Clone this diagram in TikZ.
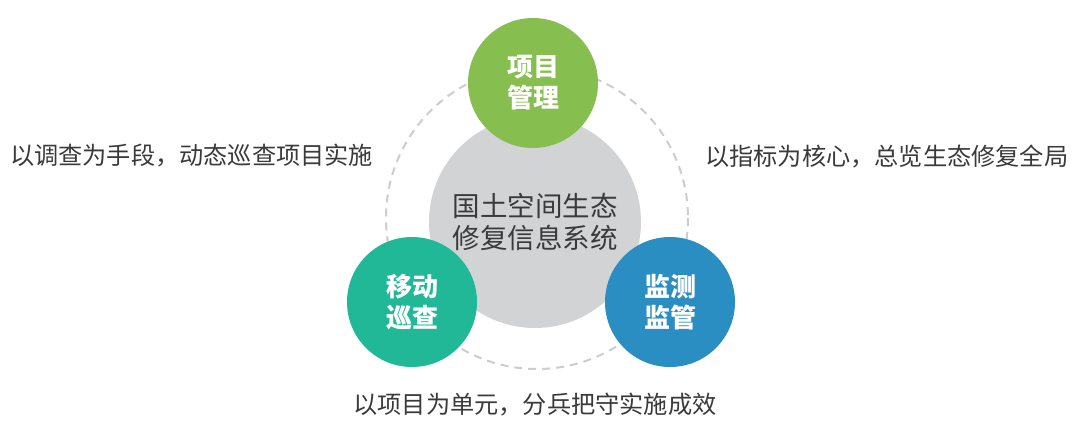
\documentclass[tikz,border=0pt]{standalone}
\usepackage{fontspec}
\newfontfamily\cjk{Noto Sans CJK SC}
\definecolor{cgreen}{HTML}{86BF50}
\definecolor{cteal}{HTML}{21B898}
\definecolor{cblue}{HTML}{2A8EC3}
\definecolor{cgray}{HTML}{D2D3D5}
\definecolor{cdash}{HTML}{CDCDCD}
\definecolor{ctext}{HTML}{3A3A3A}
\tikzset{
  sidetext/.style={font=\cjk\fontsize{24.2}{29}\selectfont, text=ctext, inner sep=0pt},
  bubble/.style={circle, minimum size=130pt, inner sep=0pt, align=center, text=white, font=\cjk\bfseries\fontsize{26}{31}\selectfont},
}
\begin{document}
\begin{tikzpicture}[x=1pt,y=-1pt]
\useasboundingbox (0,0) rectangle (1080,437);
\fill[white] (0,0) rectangle (1080,437);
\draw[cdash, line width=2pt, dash pattern=on 8pt off 6pt] (537,218) circle[radius=151];
\node[circle, fill=cgray, minimum size=212pt, inner sep=0pt, align=center, text=ctext, font=\cjk\fontsize{27.5}{32}\selectfont] (core) at (535,222) {国土空间生态\\修复信息系统};
\node[bubble, fill=cgreen] (pm) at (533,83) {项目\\管理};
\node[bubble, fill=cteal] (mi) at (412,302) {移动\\巡查};
\node[bubble, fill=cblue] (jc) at (670,302) {监测\\监管};
\node[sidetext, anchor=west] (lt) at (10,156) {以调查为手段，动态巡查项目实施};
\node[sidetext, anchor=west] (rt) at (705,156) {以指标为核心，总览生态修复全局};
\node[sidetext] (bt) at (535,405) {以项目为单元，分兵把守实施成效};
\end{tikzpicture}
\end{document}
